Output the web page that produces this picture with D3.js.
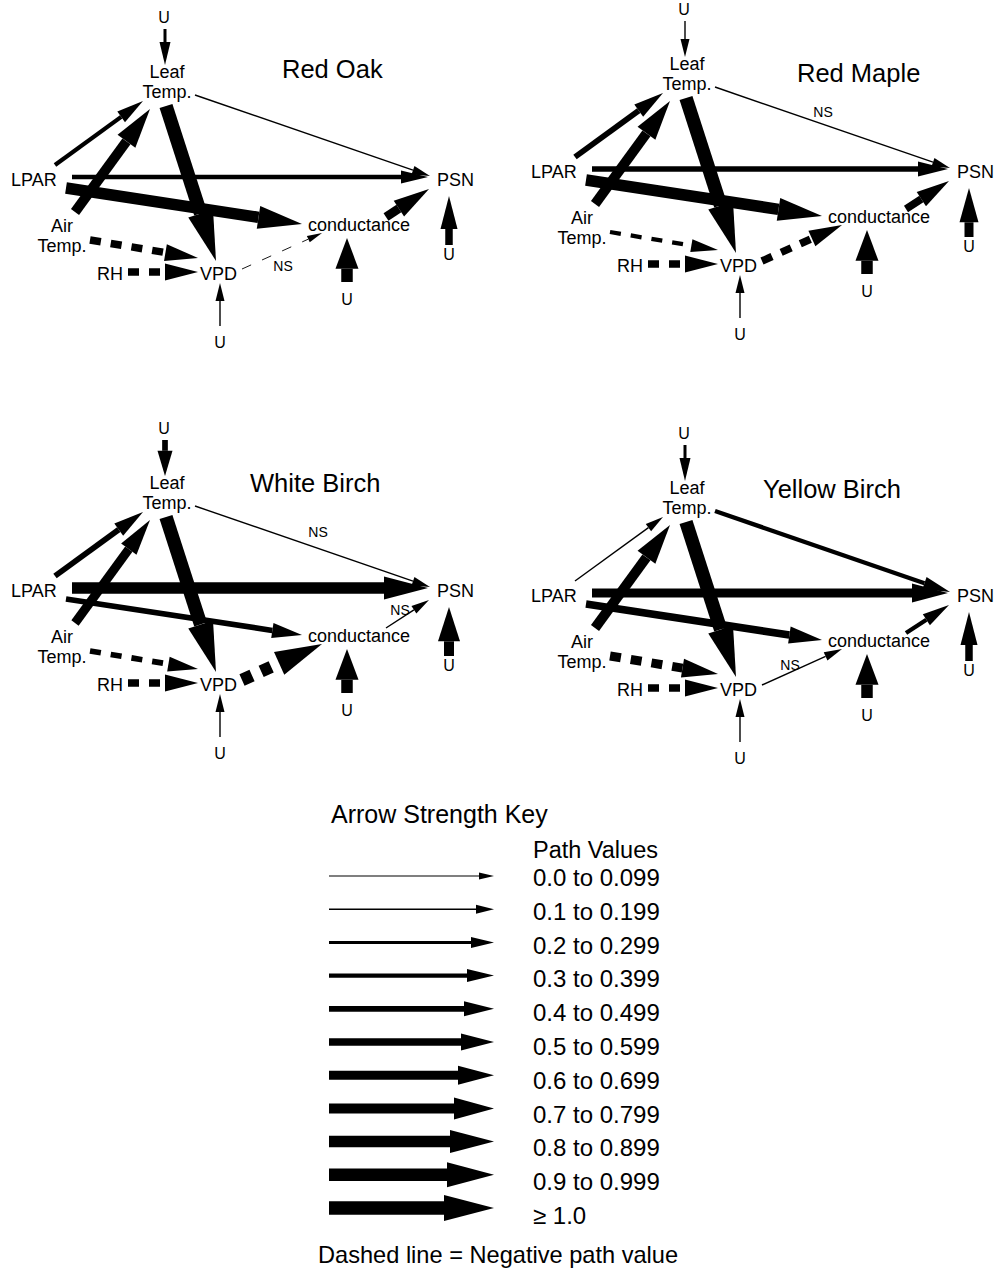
<!DOCTYPE html>
<html>
<head>
<meta charset="utf-8">
<script src="https://cdn.jsdelivr.net/npm/d3@7"></script>
<style>
  body { margin: 0; background: #fff; }
  svg text { font-family: "Liberation Sans", Arial, Helvetica, sans-serif; fill: #000; }
</style>
</head>
<body>
<svg id="chart" width="1000" height="1270"></svg>
<script>
// ---- Path coefficients (sign = direction of effect) ----
const pathKeys = [
  "U>Leaf", "U>VPD", "U>cond", "U>PSN",
  "LPAR>Leaf", "Air>Leaf", "Leaf>VPD", "Leaf>PSN",
  "LPAR>PSN", "LPAR>cond", "Air>VPD", "RH>VPD",
  "VPD>cond", "cond>PSN"
];
const speciesNames = ["Red Oak", "Red Maple", "White Birch", "Yellow Birch"];
const redOakPaths     = [0.25, 0.15, 0.82, 0.58, 0.35, 0.75, 1.05, 0.15, 0.32, 0.85, -0.55, -0.58, -0.09, 0.60];
const redMaplePaths   = [0.18, 0.14, 0.86, 0.65, 0.45, 0.70, 1.10, 0.12, 0.42, 0.82, -0.38, -0.50, -0.52, 0.50];
const whiteBirchPaths = [0.42, 0.14, 0.88, 0.72, 0.45, 0.68, 1.10, 0.12, 0.82, 0.45, -0.45, -0.50, -0.90, 0.12];
const yellowBirchPaths= [0.22, 0.14, 0.85, 0.58, 0.15, 0.72, 1.10, 0.38, 0.62, 0.58, -0.65, -0.55, 0.12, 0.35];
const speciesPaths = [redOakPaths, redMaplePaths, whiteBirchPaths, yellowBirchPaths];
// non-significant paths per species
const nsPaths = [["VPD>cond"], ["Leaf>PSN"], ["Leaf>PSN", "cond>PSN"], ["VPD>cond"]];

// ---- Key ----
const keyValues = [0.05, 0.15, 0.25, 0.35, 0.45, 0.55, 0.65, 0.75, 0.85, 0.95, 1.05];
const keyLabels = ["0.0 to 0.099", "0.1 to 0.199", "0.2 to 0.299", "0.3 to 0.399", "0.4 to 0.499",
                   "0.5 to 0.599", "0.6 to 0.699", "0.7 to 0.799", "0.8 to 0.899", "0.9 to 0.999", "\u2265 1.0"];

// ---- Layout ----
const panelOrigin = [[0, 0], [520, -8], [0, 411], [520, 416]];
const titlePos = [[282, 78], [277, 90], [250, 81], [243, 82]];

// start / end anchor of each path inside a panel
const ports = {
  "U>Leaf":   [[165, 29], [165, 65]],
  "U>VPD":    [[220, 326], [220, 283]],
  "U>cond":   [[347, 282], [347, 238]],
  "U>PSN":    [[449, 245], [449, 196]],
  "LPAR>Leaf":[[55, 165], [143, 101]],
  "Air>Leaf": [[75, 212], [150, 109]],
  "Leaf>VPD": [[166, 106], [216, 261]],
  "Leaf>PSN": [[195, 95], [430, 176]],
  "LPAR>PSN": [[72, 177], [428, 177]],
  "LPAR>cond":[[66, 188], [302, 224]],
  "Air>VPD":  [[90, 240], [198, 258]],
  "RH>VPD":   [[128, 272], [198, 272]],
  "VPD>cond": [[242, 269], [322, 233]],
  "cond>PSN": [[386, 217], [429, 189]]
};
// centre of the "NS" tag for each non-significant path, per panel
const nsLabelPos = [
  {"VPD>cond": [283, 266]},
  {"Leaf>PSN": [303, 120]},
  {"Leaf>PSN": [318, 121], "cond>PSN": [400, 199]},
  {"VPD>cond": [270, 249]}
];

const nodeLabels = [
  {lines: ["Leaf", "Temp."], x: 167, y: 78, anchor: "middle"},
  {lines: ["LPAR"], x: 11, y: 186, anchor: "start"},
  {lines: ["PSN"], x: 437, y: 186, anchor: "start"},
  {lines: ["Air", "Temp."], x: 62, y: 232, anchor: "middle"},
  {lines: ["RH"], x: 97, y: 280, anchor: "start"},
  {lines: ["VPD"], x: 200, y: 280, anchor: "start"},
  {lines: ["conductance"], x: 308, y: 231, anchor: "start"}
];
const residualLabels = [[164, 23], [220, 348], [347, 305], [449, 260]];

// ---- Arrow size classes ----
const classBreaks = d3.range(1, 11).map(d => d / 10);
const shaftWidth = d3.scaleThreshold().domain(classBreaks)
  .range([0.9, 1.4, 3, 4.3, 5.7, 7.5, 9, 10, 11.5, 12.5, 13.5]);
const headLength = d3.scaleThreshold().domain(classBreaks)
  .range([15, 18, 23, 27, 30, 33, 36, 40, 44, 47, 50]);
const headWidth = d3.scaleThreshold().domain(classBreaks)
  .range([7, 9, 11, 13, 15, 17, 19, 22, 23, 25, 26]);

const line = d3.line();

function arrowGeometry(p0, p1, value) {
  const a = Math.abs(value);
  const dx = p1[0] - p0[0], dy = p1[1] - p0[1];
  const len = Math.hypot(dx, dy);
  const ux = dx / len, uy = dy / len;
  const nx = -uy, ny = ux;
  const w = shaftWidth(a) / 2, hl = Math.min(headLength(a), len * 0.7), hw = headWidth(a) / 2;
  const base = [p1[0] - ux * hl, p1[1] - uy * hl];
  return {
    base, w: shaftWidth(a),
    shaft: [[p0[0] + nx * w, p0[1] + ny * w], [base[0] + nx * w, base[1] + ny * w],
            [base[0] - nx * w, base[1] - ny * w], [p0[0] - nx * w, p0[1] - ny * w]],
    head: [[base[0] + nx * hw, base[1] + ny * hw], p1, [base[0] - nx * hw, base[1] - ny * hw]]
  };
}

function drawArrow(g, p0, p1, value) {
  const geo = arrowGeometry(p0, p1, value);
  if (value < 0) {
    const thin = geo.w < 2;
    g.append("line")
      .attr("x1", p0[0]).attr("y1", p0[1])
      .attr("x2", geo.base[0]).attr("y2", geo.base[1])
      .attr("stroke", "#000").attr("stroke-width", geo.w)
      .attr("stroke-dasharray", thin ? "10,12" : "11,10");
  } else {
    g.append("path").attr("d", line(geo.shaft) + "Z").attr("fill", "#000");
  }
  g.append("path").attr("d", line(geo.head) + "Z").attr("fill", "#000");
}

const svg = d3.select("#chart");

// ---- Panels ----
speciesNames.forEach((name, i) => {
  const g = svg.append("g").attr("transform", `translate(${panelOrigin[i][0]},${panelOrigin[i][1]})`);
  const values = speciesPaths[i];

  pathKeys.forEach((key, k) => {
    const [p0, p1] = ports[key];
    drawArrow(g, p0, p1, values[k]);
  });

  nsPaths[i].forEach(key => {
    const pos = nsLabelPos[i][key];
    g.append("text").attr("x", pos[0]).attr("y", pos[1]).attr("dy", "0.36em")
      .attr("text-anchor", "middle").attr("font-size", 14).text("NS");
  });

  nodeLabels.forEach(n => {
    n.lines.forEach((txt, j) => {
      g.append("text").attr("x", n.x).attr("y", n.y + j * 20)
        .attr("text-anchor", n.anchor).attr("font-size", 18).text(txt);
    });
  });

  residualLabels.forEach(p => {
    g.append("text").attr("x", p[0]).attr("y", p[1])
      .attr("text-anchor", "middle").attr("font-size", 16).text("U");
  });

  g.append("text").attr("x", titlePos[i][0]).attr("y", titlePos[i][1])
    .attr("font-size", 25.5).text(name);
});

// ---- Arrow strength key ----
const key = svg.append("g");
key.append("text").attr("x", 331).attr("y", 823).attr("font-size", 25).text("Arrow Strength Key");
key.append("text").attr("x", 533).attr("y", 858).attr("font-size", 23.5).text("Path Values");

const rowY = d3.scaleLinear().domain([0, keyValues.length - 1]).range([876, 1208]);
const labelY = d3.scaleLinear().domain([0, keyValues.length - 1]).range([886, 1224]);

keyValues.forEach((v, i) => {
  drawArrow(key, [329, rowY(i)], [494, rowY(i)], v);
  key.append("text").attr("x", 533).attr("y", labelY(i)).attr("font-size", 24).text(keyLabels[i]);
});

key.append("text").attr("x", 318).attr("y", 1263).attr("font-size", 23.6)
  .text("Dashed line = Negative path value");
</script>
</body>
</html>
